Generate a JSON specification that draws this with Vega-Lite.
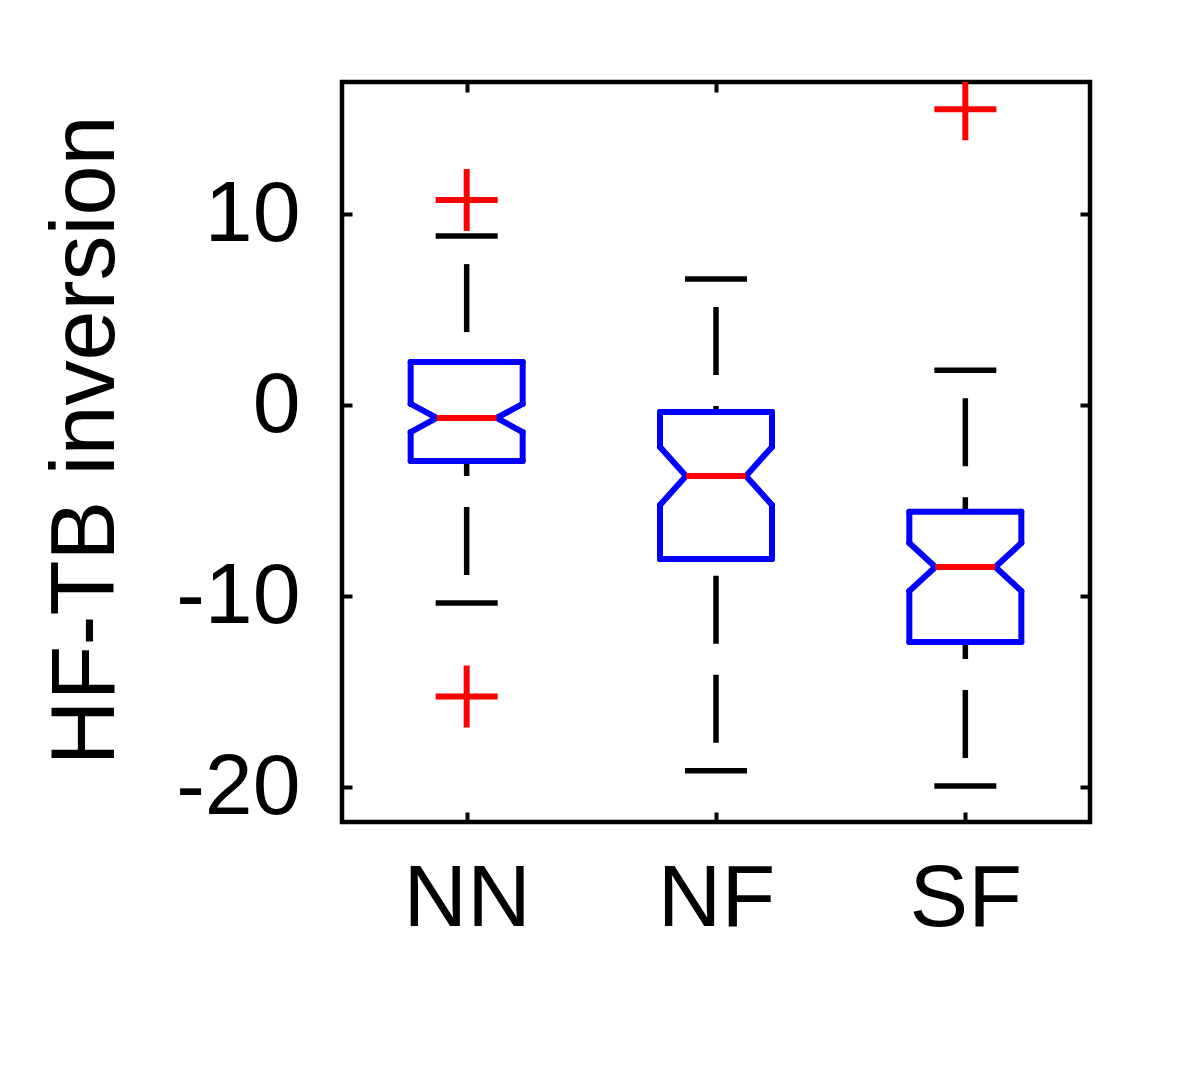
{
  "$schema": "https://vega.github.io/schema/vega-lite/v6.json",
  "width": 748,
  "height": 740,
  "autosize": {"type": "none"},
  "padding": {"left": 342, "top": 82, "right": 110, "bottom": 244},
  "background": "white",
  "config": {
    "view": {"stroke": "black", "strokeWidth": 4.5},
    "axis": {"grid": false, "labelFont": "Liberation Sans", "titleFont": "Liberation Sans", "labelColor": "black", "titleColor": "black", "tickColor": "black", "tickWidth": 4, "domain": false}
  },
  "datasets": {
    "stats": [
      {"group": "NN", "q1": -2.92, "nlo": -1.4, "med": -0.66, "nhi": 0.07, "q3": 2.27, "wlo": -10.35, "whi": 8.86},
      {"group": "NF", "q1": -8.05, "nlo": -5.22, "med": -3.70, "nhi": -2.18, "q3": -0.35, "wlo": -19.14, "whi": 6.61},
      {"group": "SF", "q1": -12.39, "nlo": -9.72, "med": -8.47, "nhi": -7.21, "q3": -5.58, "wlo": -19.93, "whi": 1.84}
    ],
    "outliers": [
      {"group": "NN", "value": 10.75},
      {"group": "NN", "value": -15.25},
      {"group": "SF", "value": 15.5}
    ]
  },
  "layer": [
    {
      "data": {"name": "stats"},
      "encoding": {
        "x": {
          "field": "group", "type": "nominal", "sort": ["NN", "NF", "SF"],
          "scale": {"type": "point", "padding": 0.5},
          "axis": {"orient": "bottom", "title": null, "labelAngle": 0, "labelFontSize": 88, "tickSize": -10, "labelPadding": 43, "labelBaseline": "top"}
        }
      },
      "layer": [
        {
          "mark": {"type": "rule", "stroke": "black", "strokeWidth": 5.5, "strokeDash": [68, 31], "strokeDashOffset": 71, "strokeCap": "butt"},
          "encoding": {
            "y": {
              "field": "whi", "type": "quantitative",
              "scale": {"domain": [-21.82, 16.93], "nice": false, "zero": false},
              "axis": {"orient": "left", "title": "HF-TB inversion", "values": [-20, -10, 0, 10], "labelExpr": "datum.value < 0 ? '-' + abs(datum.value) : '' + datum.value", "labelFontSize": 86, "tickSize": -10, "labelPadding": 52, "titleFontSize": 90, "titleFontWeight": "normal", "titleX": -229, "titleY": 358, "titleBaseline": "alphabetic", "titleAngle": -90, "titleAlign": "center"}
            },
            "y2": {"field": "q3"}
          }
        },
        {
          "mark": {"type": "rule", "stroke": "black", "strokeWidth": 5.5, "strokeDash": [68, 31], "strokeDashOffset": 71, "strokeCap": "butt"},
          "encoding": {"y": {"field": "wlo", "type": "quantitative"}, "y2": {"field": "q1"}}
        },
        {
          "mark": {"type": "rule", "stroke": "black", "strokeWidth": 5.5, "xOffset": -31, "x2Offset": 31},
          "encoding": {"x2": {"field": "group"}, "y": {"field": "whi", "type": "quantitative"}}
        },
        {
          "mark": {"type": "rule", "stroke": "black", "strokeWidth": 5.5, "xOffset": -31, "x2Offset": 31},
          "encoding": {"x2": {"field": "group"}, "y": {"field": "wlo", "type": "quantitative"}}
        },
        {
          "mark": {"type": "rule", "stroke": "blue", "strokeWidth": 6, "strokeCap": "round", "xOffset": -56, "x2Offset": 56},
          "encoding": {"x2": {"field": "group"}, "y": {"field": "q3", "type": "quantitative"}, "y2": {"field": "q3"}}
        },
        {
          "mark": {"type": "rule", "stroke": "blue", "strokeWidth": 6, "strokeCap": "round", "xOffset": -56, "x2Offset": 56},
          "encoding": {"x2": {"field": "group"}, "y": {"field": "q1", "type": "quantitative"}, "y2": {"field": "q1"}}
        },
        {
          "mark": {"type": "rule", "stroke": "blue", "strokeWidth": 6, "strokeCap": "round", "xOffset": -56, "x2Offset": -56},
          "encoding": {"x2": {"field": "group"}, "y": {"field": "q3", "type": "quantitative"}, "y2": {"field": "nhi"}}
        },
        {
          "mark": {"type": "rule", "stroke": "blue", "strokeWidth": 6, "strokeCap": "round", "xOffset": -56, "x2Offset": -30},
          "encoding": {"x2": {"field": "group"}, "y": {"field": "nhi", "type": "quantitative"}, "y2": {"field": "med"}}
        },
        {
          "mark": {"type": "rule", "stroke": "blue", "strokeWidth": 6, "strokeCap": "round", "xOffset": -30, "x2Offset": -56},
          "encoding": {"x2": {"field": "group"}, "y": {"field": "med", "type": "quantitative"}, "y2": {"field": "nlo"}}
        },
        {
          "mark": {"type": "rule", "stroke": "blue", "strokeWidth": 6, "strokeCap": "round", "xOffset": -56, "x2Offset": -56},
          "encoding": {"x2": {"field": "group"}, "y": {"field": "nlo", "type": "quantitative"}, "y2": {"field": "q1"}}
        },
        {
          "mark": {"type": "rule", "stroke": "blue", "strokeWidth": 6, "strokeCap": "round", "xOffset": 56, "x2Offset": 56},
          "encoding": {"x2": {"field": "group"}, "y": {"field": "q3", "type": "quantitative"}, "y2": {"field": "nhi"}}
        },
        {
          "mark": {"type": "rule", "stroke": "blue", "strokeWidth": 6, "strokeCap": "round", "xOffset": 56, "x2Offset": 30},
          "encoding": {"x2": {"field": "group"}, "y": {"field": "nhi", "type": "quantitative"}, "y2": {"field": "med"}}
        },
        {
          "mark": {"type": "rule", "stroke": "blue", "strokeWidth": 6, "strokeCap": "round", "xOffset": 30, "x2Offset": 56},
          "encoding": {"x2": {"field": "group"}, "y": {"field": "med", "type": "quantitative"}, "y2": {"field": "nlo"}}
        },
        {
          "mark": {"type": "rule", "stroke": "blue", "strokeWidth": 6, "strokeCap": "round", "xOffset": 56, "x2Offset": 56},
          "encoding": {"x2": {"field": "group"}, "y": {"field": "nlo", "type": "quantitative"}, "y2": {"field": "q1"}}
        },
        {
          "mark": {"type": "rule", "stroke": "red", "strokeWidth": 6, "xOffset": -30, "x2Offset": 30},
          "encoding": {"x2": {"field": "group"}, "y": {"field": "med", "type": "quantitative"}, "y2": {"field": "med"}}
        },
        {
          "data": {"name": "outliers"},
          "mark": {"type": "point", "shape": "M-1,0L1,0M0,-1L0,1", "filled": false, "stroke": "red", "strokeWidth": 6, "size": 3844, "opacity": 1, "clip": true},
          "encoding": {"y": {"field": "value", "type": "quantitative"}}
        }
      ]
    },
    {
      "data": {"name": "stats"},
      "mark": {"type": "point", "opacity": 0},
      "encoding": {
        "x": {"field": "group", "type": "nominal", "sort": ["NN", "NF", "SF"], "axis": {"orient": "top", "title": null, "labels": false, "tickSize": -10}},
        "y": {"field": "med", "type": "quantitative", "axis": {"orient": "right", "title": null, "labels": false, "values": [-20, -10, 0, 10], "tickSize": -10}}
      }
    }
  ],
  "resolve": {"axis": {"x": "independent", "y": "independent"}}
}
